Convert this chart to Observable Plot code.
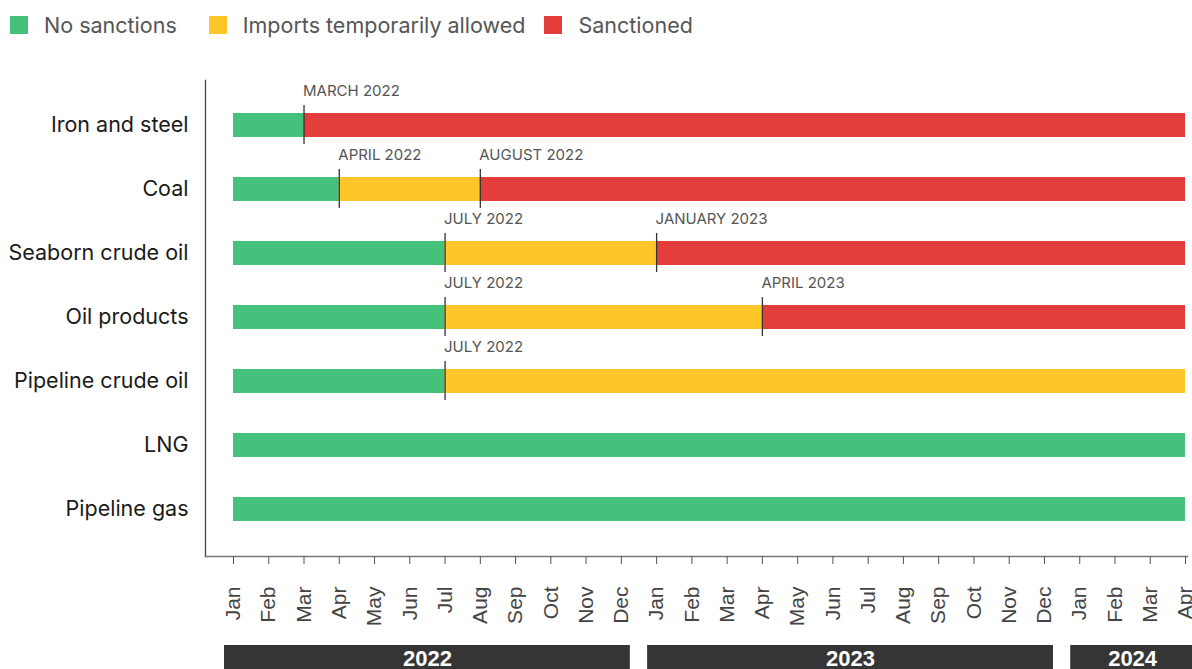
<!DOCTYPE html>
<html>
<head>
<meta charset="utf-8">
<script src="https://cdn.jsdelivr.net/npm/d3@7"></script>
<script src="https://cdn.jsdelivr.net/npm/@observablehq/plot@0.6"></script>
<style>
  html, body { margin: 0; padding: 0; background: #fff; overflow: hidden; width: 1192px; height: 669px; }
  #legend { height: 50px; display: flex; align-items: center; padding-left: 10px; font-family: Inter, sans-serif; font-size: 21.5px; color: #555; box-sizing: border-box; }
  #legend .item { display: flex; align-items: center; }
  #legend .sw { width: 18px; height: 18px; margin-right: 16px; }
  #chart svg, #years svg { display: block; }
  #chart g[aria-label="x-axis tick label"] text { font-family: "Liberation Sans", Arial, sans-serif; }
</style>
</head>
<body>
<div id="legend"></div>
<div id="chart"></div>
<div id="years"></div>
<script>
// ---- data ----
const categories = ["Iron and steel", "Coal", "Seaborn crude oil", "Oil products", "Pipeline crude oil", "LNG", "Pipeline gas"];
const statuses = ["No sanctions", "Imports temporarily allowed", "Sanctioned"];
const statusColors = ["#45c17c", "#ffc629", "#e43e3c"];

const axisStart = "2022-01";
const axisEnd = "2024-04";

const segCategory = ["Iron and steel", "Iron and steel",
  "Coal", "Coal", "Coal",
  "Seaborn crude oil", "Seaborn crude oil", "Seaborn crude oil",
  "Oil products", "Oil products", "Oil products",
  "Pipeline crude oil", "Pipeline crude oil",
  "LNG", "Pipeline gas"];
const segStart = ["2022-01", "2022-03",
  "2022-01", "2022-04", "2022-08",
  "2022-01", "2022-07", "2023-01",
  "2022-01", "2022-07", "2023-04",
  "2022-01", "2022-07",
  "2022-01", "2022-01"];
const segEnd = ["2022-03", "2024-04",
  "2022-04", "2022-08", "2024-04",
  "2022-07", "2023-01", "2024-04",
  "2022-07", "2023-04", "2024-04",
  "2022-07", "2024-04",
  "2024-04", "2024-04"];
const segStatus = ["No sanctions", "Sanctioned",
  "No sanctions", "Imports temporarily allowed", "Sanctioned",
  "No sanctions", "Imports temporarily allowed", "Sanctioned",
  "No sanctions", "Imports temporarily allowed", "Sanctioned",
  "No sanctions", "Imports temporarily allowed",
  "No sanctions", "No sanctions"];

const changeCategory = ["Iron and steel", "Coal", "Coal", "Seaborn crude oil", "Seaborn crude oil", "Oil products", "Oil products", "Pipeline crude oil"];
const changeMonth = ["2022-03", "2022-04", "2022-08", "2022-07", "2023-01", "2022-07", "2023-04", "2022-07"];
const changeLabel = ["MARCH 2022", "APRIL 2022", "AUGUST 2022", "JULY 2022", "JANUARY 2023", "JULY 2022", "APRIL 2023", "JULY 2022"];

const monthLabels = ["Jan", "Feb", "Mar", "Apr", "May", "Jun", "Jul", "Aug", "Sep", "Oct", "Nov", "Dec"];

const years = ["2022", "2023", "2024"];
const yearStart = ["2022-01", "2023-01", "2024-01"];
const yearEnd = ["2022-12", "2023-12", "2024-04"];

// ---- helpers ----
const monthIndex = s => (+s.slice(0, 4) - 2022) * 12 + (+s.slice(5, 7) - 1);
const xDomain = [monthIndex(axisStart), monthIndex(axisEnd)];
const monthTicks = d3.range(xDomain[0], xDomain[1] + 1);

const segs = segCategory.map((c, i) => ({category: c, start: monthIndex(segStart[i]), end: monthIndex(segEnd[i]), status: segStatus[i]}));
const changes = changeCategory.map((c, i) => ({category: c, month: monthIndex(changeMonth[i]), label: changeLabel[i]}));
const yearRows = years.map((y, i) => ({year: y, start: monthIndex(yearStart[i]), end: monthIndex(yearEnd[i])}));

// ---- legend ----
const legend = document.getElementById("legend");
const legendGaps = [32, 19, 0];
statuses.forEach((s, i) => {
  const item = document.createElement("div");
  item.className = "item";
  item.style.marginRight = legendGaps[i] + "px";
  const sw = document.createElement("div");
  sw.className = "sw";
  sw.style.background = statusColors[i];
  const t = document.createElement("span");
  t.textContent = s;
  item.appendChild(sw);
  item.appendChild(t);
  legend.appendChild(item);
});

// ---- main chart ----
const xScale = {type: "linear", domain: xDomain, insetLeft: 28, insetRight: 2};

const chart = Plot.plot({
  width: 1192,
  height: 595,
  marginTop: 30,
  marginBottom: 89,
  marginLeft: 205,
  marginRight: 5,
  style: {fontFamily: "Inter, sans-serif", background: "#fff"},
  x: {...xScale},
  y: {type: "band", domain: categories, insetTop: 10.67, insetBottom: 12.67, paddingInner: 0.629, paddingOuter: 0.3145},
  color: {domain: statuses, range: statusColors},
  marks: [
    Plot.barX(segs, {x1: "start", x2: "end", y: "category", fill: "status"}),
    Plot.tickX(changes, {x: "month", y: "category", stroke: "#333", strokeWidth: 1.3, insetTop: -8, insetBottom: -7}),
    Plot.text(changes, {x: "month", y: "category", text: "label", textAnchor: "start", lineAnchor: "bottom", dy: -30, dx: -1, fontSize: 15, fill: "#555"}),
    Plot.frame({anchor: "left", stroke: "#444", strokeWidth: 1.3}),
    Plot.frame({anchor: "bottom", stroke: "#777", strokeWidth: 1.3}),
    Plot.axisY({tickSize: 0, tickPadding: 17, fontSize: 21.5, fill: "#1a1a1a", label: null}),
    Plot.axisX({ticks: monthTicks, tickFormat: i => monthLabels[i % 12], tickRotate: -90, tickSize: 8, tickPadding: 22, fontSize: 21, stroke: "#555", fill: "#444", label: null})
  ]
});
document.getElementById("chart").appendChild(chart);

// ---- year band ----
const yearsPlot = Plot.plot({
  width: 1192,
  height: 24,
  marginTop: 0,
  marginBottom: 0,
  marginLeft: 205,
  marginRight: 5,
  style: {fontFamily: "'Liberation Sans', Arial, sans-serif", background: "#fff"},
  x: {...xScale, axis: null},
  marks: [
    Plot.rect(yearRows, {x1: "start", x2: "end", fill: "#353535", insetLeft: -9, insetRight: -9}),
    Plot.text(yearRows, {x: d => (d.start + d.end) / 2, text: "year", fill: "#fff", fontWeight: "bold", fontSize: 22, dy: 1})
  ]
});
document.getElementById("years").appendChild(yearsPlot);
</script>
</body>
</html>
